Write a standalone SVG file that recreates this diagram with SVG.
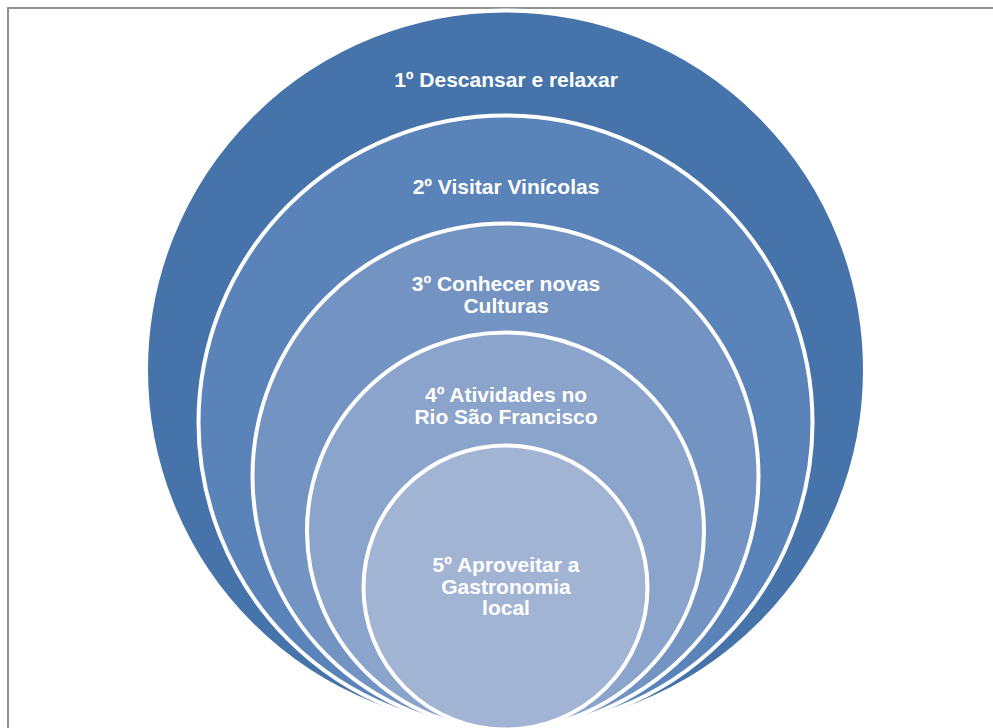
<svg xmlns="http://www.w3.org/2000/svg" width="993" height="728" viewBox="0 0 993 728">
  <style>
    .ring { stroke: #ffffff; stroke-width: 4; }
    .lbl { font-family: "Liberation Sans", Arial, sans-serif; font-weight: bold; font-size: 21px; fill: #ffffff; text-anchor: middle; }
  </style>
  <rect x="0" y="0" width="993" height="728" fill="#ffffff"/>
  <rect x="8" y="8" width="1100" height="900" fill="none" stroke="#858585" stroke-width="1.8"/>
  <g id="node1">
    <circle class="ring" cx="505.5" cy="370" r="359.5" fill="#4673A9"/>
    <text class="lbl" x="506" y="87">1º Descansar e relaxar</text>
  </g>
  <g id="node2">
    <circle class="ring" cx="505.5" cy="422.5" r="307" fill="#5A83BA"/>
    <text class="lbl" x="506" y="193.5">2º Visitar Vinícolas</text>
  </g>
  <g id="node3">
    <circle class="ring" cx="505.5" cy="476.5" r="253" fill="#7393C2"/>
    <text class="lbl" x="506" y="291">3º Conhecer novas</text>
    <text class="lbl" x="506" y="313">Culturas</text>
  </g>
  <g id="node4">
    <circle class="ring" cx="505.5" cy="531" r="198.5" fill="#8BA4CB"/>
    <text class="lbl" x="506" y="402">4º Atividades no</text>
    <text class="lbl" x="506" y="424">Rio São Francisco</text>
  </g>
  <g id="node5">
    <circle class="ring" cx="505.5" cy="587.5" r="142" fill="#A2B4D4"/>
    <text class="lbl" x="506" y="572">5º Aproveitar a</text>
    <text class="lbl" x="506" y="594">Gastronomia</text>
    <text class="lbl" x="506" y="615">local</text>
  </g>
</svg>
